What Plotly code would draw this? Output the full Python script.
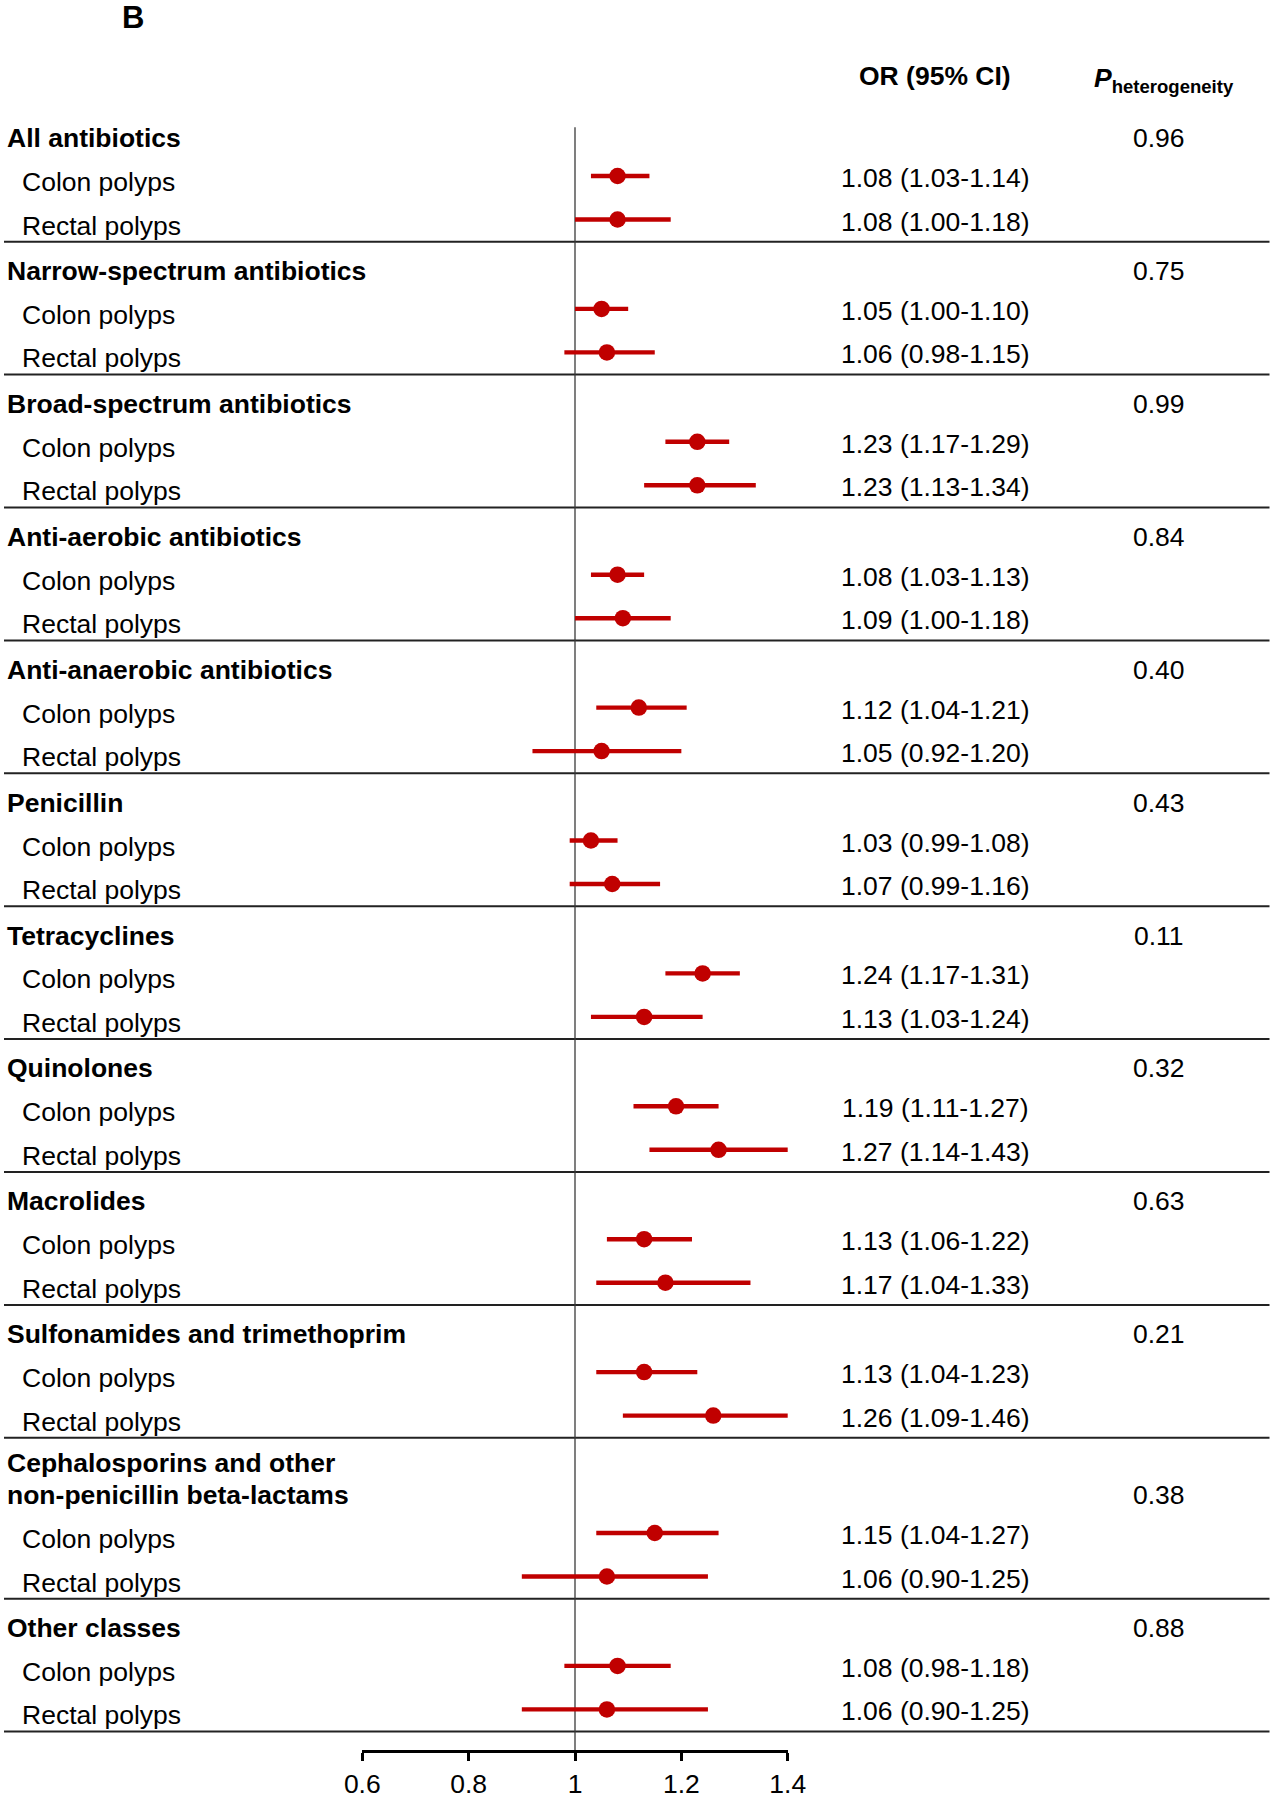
import plotly.graph_objects as go

# ---------------- data ----------------
groups = [
    "All antibiotics",
    "Narrow-spectrum antibiotics",
    "Broad-spectrum antibiotics",
    "Anti-aerobic antibiotics",
    "Anti-anaerobic antibiotics",
    "Penicillin",
    "Tetracyclines",
    "Quinolones",
    "Macrolides",
    "Sulfonamides and trimethoprim",
    "Cephalosporins and other\nnon-penicillin beta-lactams",
    "Other classes",
]
p_het = ["0.96", "0.75", "0.99", "0.84", "0.40", "0.43", "0.11", "0.32", "0.63", "0.21", "0.38", "0.88"]

colon_or = [1.08, 1.05, 1.23, 1.08, 1.12, 1.03, 1.24, 1.19, 1.13, 1.13, 1.15, 1.08]
colon_lo = [1.03, 1.00, 1.17, 1.03, 1.04, 0.99, 1.17, 1.11, 1.06, 1.04, 1.04, 0.98]
colon_hi = [1.14, 1.10, 1.29, 1.13, 1.21, 1.08, 1.31, 1.27, 1.22, 1.23, 1.27, 1.18]

rectal_or = [1.08, 1.06, 1.23, 1.09, 1.05, 1.07, 1.13, 1.27, 1.17, 1.26, 1.06, 1.06]
rectal_lo = [1.00, 0.98, 1.13, 1.00, 0.92, 0.99, 1.03, 1.14, 1.04, 1.09, 0.90, 0.90]
rectal_hi = [1.18, 1.15, 1.34, 1.18, 1.20, 1.16, 1.24, 1.43, 1.33, 1.46, 1.25, 1.25]

sub_labels = ["Colon polyps", "Rectal polyps"]
x_ticks = [0.6, 0.8, 1.0, 1.2, 1.4]
x_tick_text = ["0.6", "0.8", "1", "1.2", "1.4"]

# ---------------- layout constants ----------------
W, H = 1277, 1800
FONT = "Arial, Liberation Sans, sans-serif"
FS = 26.5
RED = "#C00000"
TOP = 108.8        # virtual separator above first group
GROUP_H = 132.9
EXTRA_LINE = 28.0
OFF_HEAD, OFF_COLON, OFF_RECT = 29.3, 67.2, 110.7
AXIS_Y = 1751
REF_TOP = 127.3
X_LEFT_PX, X_RIGHT_PX = 362.3, 787.7

# compute row positions
head_lines_y, p_y, colon_y, rect_y, sep_y = [], [], [], [], []
s = TOP
for g in groups:
    n = len(g.split("\n"))
    extra = (n - 1) * EXTRA_LINE
    first = s + OFF_HEAD - 4.5 * (n - 1)
    ys = [first + i * 32 for i in range(n)]
    head_lines_y.append(ys)
    p_y.append(ys[-1])
    colon_y.append(s + OFF_COLON + extra)
    rect_y.append(s + OFF_RECT + extra)
    s = s + GROUP_H + extra
    sep_y.append(s)

fig = go.Figure()

def add_series(orv, lo, hi, ys):
    fig.add_trace(go.Scatter(
        x=orv, y=ys, mode="markers",
        marker=dict(size=16.5, color=RED),
        error_x=dict(type="data", symmetric=False,
                     array=[h - o for h, o in zip(hi, orv)],
                     arrayminus=[o - l for o, l in zip(orv, lo)],
                     color=RED, thickness=4.4, width=0),
        showlegend=False, hoverinfo="skip",
    ))

add_series(colon_or, colon_lo, colon_hi, colon_y)
add_series(rectal_or, rectal_lo, rectal_hi, rect_y)

shapes = []
# reference line at OR = 1
shapes.append(dict(type="line", xref="x", yref="y", x0=1, x1=1, y0=REF_TOP, y1=AXIS_Y,
                   line=dict(color="#3a3a3a", width=1.3), layer="below"))
for y in sep_y:
    shapes.append(dict(type="line", xref="paper", yref="y", x0=4 / W, x1=1269.5 / W, y0=y, y1=y,
                       line=dict(color="#222222", width=2), layer="below"))

ann = []
def txt(x, y, t, size=FS, anchor="left", bold=False):
    ann.append(dict(x=x / W, y=y, xref="paper", yref="y", text=("<b>%s</b>" % t) if bold else t,
                    showarrow=False, xanchor=anchor, yanchor="middle",
                    font=dict(family=FONT, size=size, color="black")))

txt(132.6, 17.5, "B", size=31, anchor="center", bold=True)
txt(935.4, 76, "OR (95% CI)", anchor="center", bold=True)
ann.append(dict(x=1092 / W, y=80, xref="paper", yref="y",
                text="<b><i>P</i><sub>heterogeneity</sub></b>", showarrow=False,
                xanchor="left", yanchor="middle", font=dict(family=FONT, size=FS, color="black")))

for i, g in enumerate(groups):
    for line, y in zip(g.split("\n"), head_lines_y[i]):
        txt(4.5, y, line, bold=True)
    txt(1159.3, p_y[i], p_het[i], anchor="center")
    txt(19.5, colon_y[i] + 6, sub_labels[0])
    txt(19.5, rect_y[i] + 6, sub_labels[1])
    txt(935.4, colon_y[i] + 2, "%.2f (%.2f-%.2f)" % (colon_or[i], colon_lo[i], colon_hi[i]), anchor="center")
    txt(935.4, rect_y[i] + 2, "%.2f (%.2f-%.2f)" % (rectal_or[i], rectal_lo[i], rectal_hi[i]), anchor="center")

fig.update_layout(
    width=W, height=H, margin=dict(l=0, r=0, t=0, b=0, pad=0, autoexpand=False),
    paper_bgcolor="white", plot_bgcolor="rgba(0,0,0,0)",
    shapes=shapes, annotations=ann, showlegend=False,
    xaxis=dict(domain=[X_LEFT_PX / W, X_RIGHT_PX / W], range=[0.6, 1.4],
               anchor="free", position=1 - AXIS_Y / H, automargin=False,
               showgrid=False, zeroline=False, showline=True, linecolor="black", linewidth=2.5,
               ticks="outside", ticklen=8, tickwidth=2.5, tickcolor="black",
               tickvals=x_ticks, ticktext=x_tick_text, ticklabelstandoff=0,
               tickfont=dict(family=FONT, size=FS, color="black")),
    yaxis=dict(domain=[0, 1], range=[H, 0], visible=False, showgrid=False, zeroline=False,
               automargin=False),
)

fig.write_html("out.html", config={"displayModeBar": False},
               post_script="document.body.style.margin='0';")
